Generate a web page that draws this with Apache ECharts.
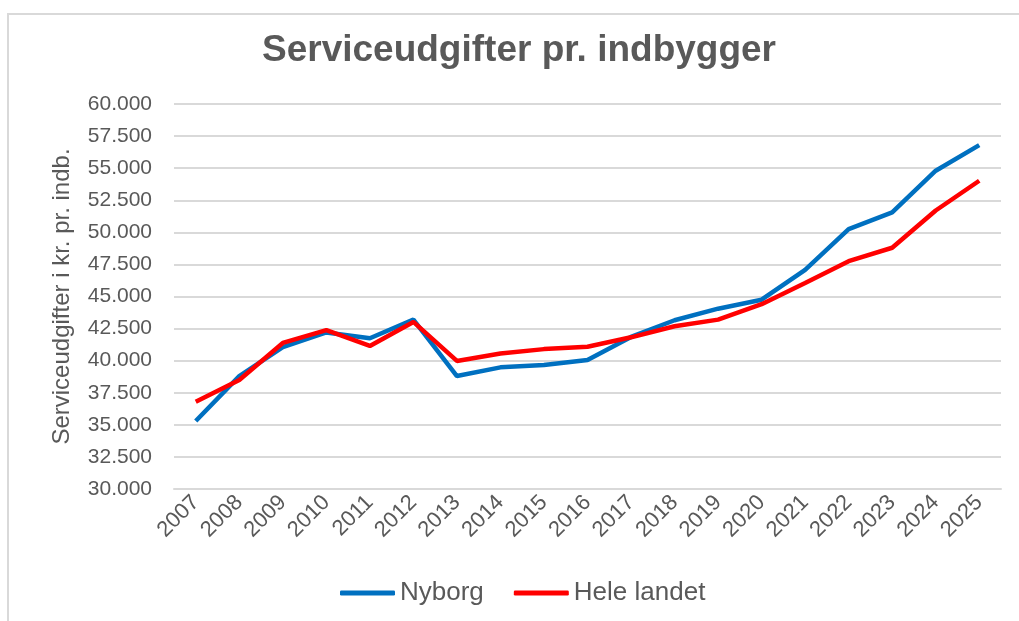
<!DOCTYPE html>
<html>
<head>
<meta charset="utf-8">
<script src="https://cdn.jsdelivr.net/npm/echarts@6/dist/echarts.min.js"></script>
<style>
html, body { margin: 0; padding: 0; background: #fff; }
#frame { position: absolute; left: 7px; top: 13px; width: 1030px; height: 700px; border: 2px solid #d9d9d9; box-sizing: border-box; }
#chart { position: absolute; left: 0; top: 0; width: 1019px; height: 621px; }
</style>
</head>
<body>
<div id="frame"></div>
<div id="chart"></div>
<script>
// aar og udgifter (kr. pr. indbygger), aflaest fra figuren
var years = ['2007','2008','2009','2010','2011','2012','2013','2014','2015','2016','2017','2018','2019','2020','2021','2022','2023','2024','2025'];
var nyborg = [35300, 38800, 41050, 42200, 41750, 43200, 38800, 39480, 39660, 40050, 41850, 43150, 44050, 44750, 47080, 50250, 51550, 54800, 56800];
var heleLandet = [36800, 38500, 41380, 42380, 41150, 43020, 39980, 40560, 40900, 41080, 41820, 42680, 43200, 44400, 46050, 47750, 48800, 51700, 54020];
var yMin = 30000, yMax = 60000, yStep = 2500;

var grey = '#595959';
var font = 'Liberation Sans, Arial, sans-serif';

function fmt (v) {
  return String(v).replace(/\B(?=(\d{3})+(?!\d))/g, '.');
}

var chart = echarts.init(document.getElementById('chart'));
var option = {
  backgroundColor: 'transparent',
  title: {
    text: 'Serviceudgifter pr. indbygger',
    left: 262,
    top: 32,
    padding: 0,
    textStyle: { fontFamily: font, fontSize: 37, fontWeight: 'bold', color: grey }
  },
  legend: {
    bottom: 10,
    left: 335,
    icon: 'roundRect',
    itemWidth: 55,
    itemHeight: 5,
    itemGap: 30,
    textStyle: { fontFamily: font, fontSize: 26, color: grey },
    data: ['Nyborg', 'Hele landet']
  },
  grid: { left: 174, right: 18, top: 104, bottom: 132 },
  xAxis: {
    type: 'category',
    data: years,
    boundaryGap: true,
    axisLine: { lineStyle: { color: '#d9d9d9', width: 2 } },
    axisTick: { show: false },
    axisLabel: { rotate: 45, margin: 10, fontFamily: font, fontSize: 22, color: grey }
  },
  yAxis: {
    type: 'value',
    min: yMin,
    max: yMax,
    interval: yStep,
    name: 'Serviceudgifter i kr. pr. indb.',
    nameLocation: 'middle',
    nameGap: 100,
    nameTextStyle: { fontFamily: font, fontSize: 24, color: grey },
    axisLine: { show: false },
    axisTick: { show: false },
    axisLabel: { margin: 22, fontFamily: font, fontSize: 21, color: grey, formatter: fmt },
    splitLine: { lineStyle: { color: '#d9d9d9', width: 2 } }
  },
  series: [{
    name: 'Nyborg',
    type: 'line',
    data: nyborg,
    showSymbol: false,
    color: '#0070c0',
    lineStyle: { width: 4.5, color: '#0070c0' }
  }, {
    name: 'Hele landet',
    type: 'line',
    data: heleLandet,
    showSymbol: false,
    color: '#ff0000',
    lineStyle: { width: 4.5, color: '#ff0000' }
  }]
};
chart.setOption(option);
</script>
</body>
</html>
